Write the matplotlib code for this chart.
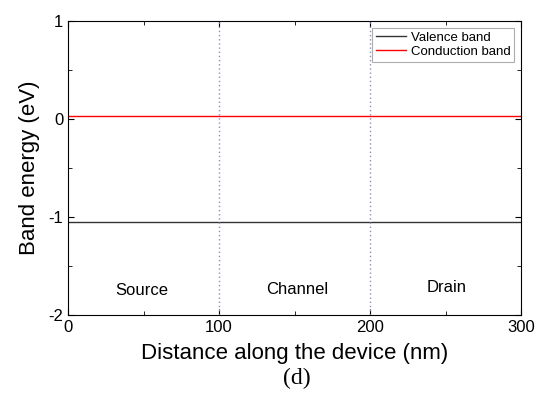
import numpy as np
import matplotlib
matplotlib.use("Agg")
import matplotlib.pyplot as plt
from matplotlib.ticker import MultipleLocator

plt.rcParams['font.family'] = ['Liberation Sans', 'DejaVu Sans']
plt.rcParams['axes.unicode_minus'] = False

# band edges along the device (flat bands)
position = [0, 100, 200, 300]
valence = [-1.05, -1.05, -1.05, -1.05]
conduction = [0.03, 0.03, 0.03, 0.03]
boundaries = [100, 200]
regions = ["Source", "Channel", "Drain"]
region_x = [49, 152, 251]
region_y = [-1.755, -1.735, -1.715]

fig = plt.figure(figsize=(5.44, 3.94), dpi=100)
ax = fig.add_axes([68/544, 1 - 315/394, 453/544, 294/394])

ax.plot(position, valence, color='#333333', lw=1.0, label='Valence band')
ax.plot(position, conduction, color='red', lw=1.0, label='Conduction band')
for b in boundaries:
    ax.axvline(b, color='#8c8cc8', lw=1.0, ls=(0, (1, 2)))

for name, x, y in zip(regions, region_x, region_y):
    ax.text(x, y, name, ha='center', va='center', fontsize=12)

ax.set_xlim(0, 300)
ax.set_ylim(-2, 1)
ax.xaxis.set_major_locator(MultipleLocator(100))
ax.xaxis.set_minor_locator(MultipleLocator(50))
ax.yaxis.set_major_locator(MultipleLocator(1))
ax.yaxis.set_minor_locator(MultipleLocator(0.5))
ax.tick_params(which='both', direction='in', top=True, right=True, labelsize=12)
ax.tick_params(which='major', length=4)
ax.tick_params(which='minor', length=3)

ax.set_xlabel("Distance along the device (nm)", fontsize=16, labelpad=6)
ax.set_ylabel("Band energy (eV)", fontsize=16, labelpad=6)

leg = ax.legend(loc='upper right', fontsize=9.5, frameon=True, fancybox=False,
                handlelength=2.3, handletextpad=0.35, borderpad=0.3,
                labelspacing=0.15, borderaxespad=0.5)
leg.get_frame().set_edgecolor('#999999')
leg.get_frame().set_linewidth(0.8)

fig.text(297/544, 1 - 378/394, "(d)", ha='center', va='center', fontsize=17,
         family=['Liberation Serif', 'DejaVu Serif'])

fig.savefig("out.png", dpi=100)
